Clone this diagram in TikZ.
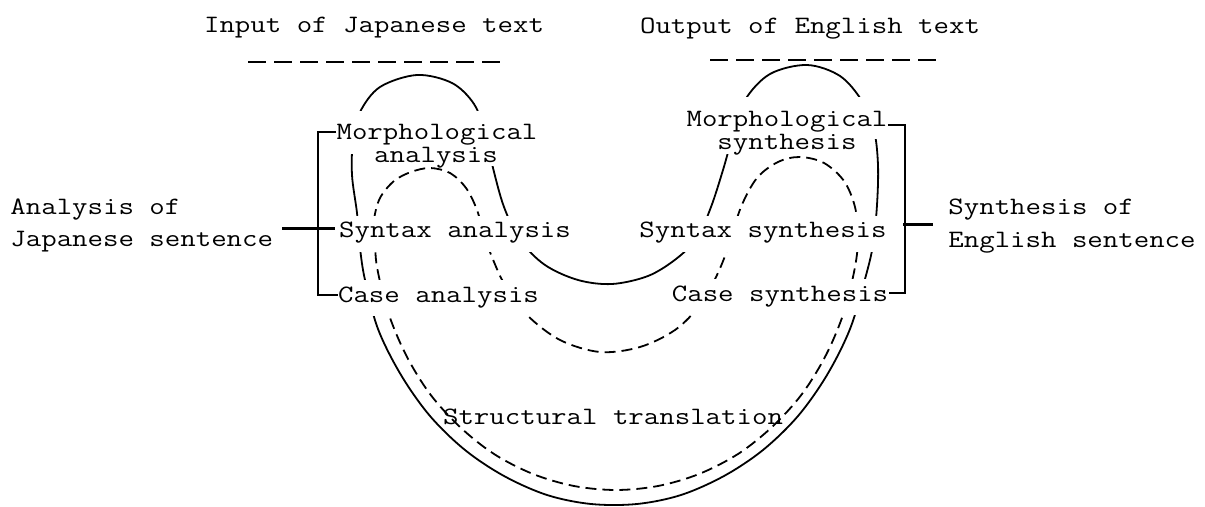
\documentclass[tikz,border=0pt]{standalone}
\usepackage{fontspec}
\usepackage{graphicx}
\pgfdeclarelayer{bg}
\pgfsetlayers{bg,main}
\newcommand{\tw}[1]{\scalebox{1.2}[1]{#1}}
\tikzset{
  txt/.style={font=\ttfamily\fontsize{12.5}{14}\selectfont\addfontfeature{FakeBold=2}, inner sep=0pt, anchor=base},
  txtw/.style={txt, anchor=base west},
  curve/.style={line width=0.9pt, line join=round},
  dcurve/.style={curve, dash pattern=on 5.5pt off 3pt},
  brk/.style={line width=1pt},
  stem/.style={line width=1.5pt},
  topdash/.style={line width=1.3pt, dash pattern=on 9pt off 4pt},
  mask/.style={fill=white, draw=none},
}
\begin{document}
\begin{tikzpicture}[x=0.5pt, y=-0.5pt]
\path[use as bounding box] (0,0) rectangle (1205,507);

% titles
\node[txt] (inJ) at (374,33) {\tw{Input of Japanese text}};
\node[txt] (outE) at (810,34) {\tw{Output of English text}};
\draw[topdash] (248,62) -- (503,62);
\draw[topdash] (710,60) -- (942,60);

% labels
\node[txt] (mA1) at (437,140) {\tw{Morphological}};
\node[txt] (mA2) at (436,162.5) {\tw{analysis}};
\node[txt] (syntaxA) at (455,238) {\tw{Syntax analysis}};
\node[txt] (caseA) at (438.5,303) {\tw{Case analysis}};
\node[txt] (mS1) at (787,127) {\tw{Morphological}};
\node[txt] (mS2) at (787,150) {\tw{synthesis}};
\node[txt] (syntaxS) at (763,238) {\tw{Syntax synthesis}};
\node[txt] (caseS) at (780,302) {\tw{Case synthesis}};
\node[txt] (struct) at (613,425) {\tw{Structural translation}};
\node[txtw] (anaJ1) at (10,215) {\tw{Analysis of}};
\node[txtw] (anaJ2) at (10,247) {\tw{Japanese sentence}};
\node[txtw] (synE1) at (948,215) {\tw{Synthesis of}};
\node[txtw] (synE2) at (948,248) {\tw{English sentence}};

\begin{pgfonlayer}{bg}
% solid horseshoe
\draw[curve] plot[smooth cycle, tension=0.55] coordinates {
 (365,280) (360,248) (357,213) (352,175) (353,140) (360,112) (380,87) (417,75)
 (452,83) (474,104) (485,133) (493,168) (504,207) (520,240) (545,265) (578,280)
 (612,284) (648,276) (676,259) (697,238) (711,207) (723,170) (733,135) (745,100)
 (770,74) (807,65) (840,76) (862,101) (874,130) (878,165) (877,205) (873,245)
 (865,279) (850,329) (827,375) (798,416) (763,450) (724,476) (681,495) (637,504)
 (591,504) (547,495) (504,476) (465,450) (430,416) (401,375) (378,329)};
% dashed horseshoe
\draw[dcurve] plot[smooth cycle, tension=0.55] coordinates {
 (375,240) (374,220) (380,198) (394,181) (411,172) (430,168) (450,173) (466,188)
 (477,210) (485,238) (494,262) (505,285) (527,315) (560,340) (600,352) (640,347)
 (675,330) (700,305) (717,275) (729,245) (741,207) (757,178) (778,162) (800,157)
 (824,163) (844,181) (855,207) (858,237) (855,267) (844,312) (826,355) (802,394)
 (772,427) (738,454) (699,474) (658,486) (616,490) (574,486) (533,474) (494,454)
 (460,427) (430,394) (406,355) (388,312) (377,267)};
% gaps where the lines meet the labels
\fill[mask] ([shift={(-2,-13)}]mA1.north west) rectangle ([shift={(2,8)}]mA1.south east);
\fill[mask] ([shift={(-2,0)}]mA2.north west) rectangle ([shift={(2,-3)}]mA2.south east);
\fill[mask] ([shift={(-2,-14)}]mS1.north west) rectangle ([shift={(2,6)}]mS1.south east);
\fill[mask] ([shift={(-2,0)}]mS2.north west) rectangle ([shift={(2,-2)}]mS2.south east);
\fill[mask] ([shift={(-2,-6)}]syntaxA.north west) rectangle ([shift={(2,8)}]syntaxA.south east);
\fill[mask] ([shift={(-2,-6)}]syntaxS.north west) rectangle ([shift={(2,8)}]syntaxS.south east);
\fill[mask] ([shift={(-2,-7)}]caseA.north west) rectangle ([shift={(2,7)}]caseA.south east);
\fill[mask] ([shift={(-2,-7)}]caseS.north west) rectangle ([shift={(2,7)}]caseS.south east);
\end{pgfonlayer}

% brackets
\coordinate (lbT) at (318,132);
\coordinate (lbB) at (318,295);
\draw[brk] (lbT -| mA1.west) -- (lbT) -- (lbB) -- (lbB -| caseA.west);
\coordinate (lsY) at (318,229);
\draw[stem, shorten <=4.5pt, shorten >=2pt] (lsY -| anaJ2.east) -- (lsY -| syntaxA.west);

\coordinate (rbT) at (905,125);
\coordinate (rbB) at (905,293);
\draw[brk] (rbT -| mS1.east) -- (rbT) -- (rbB) -- (rbB -| caseS.east);
\coordinate (rsY) at (905,225);
\draw[stem, shorten <=8pt, shorten >=7.5pt] (rsY -| syntaxS.east) -- (rsY -| synE1.west);
\end{tikzpicture}
\end{document}
